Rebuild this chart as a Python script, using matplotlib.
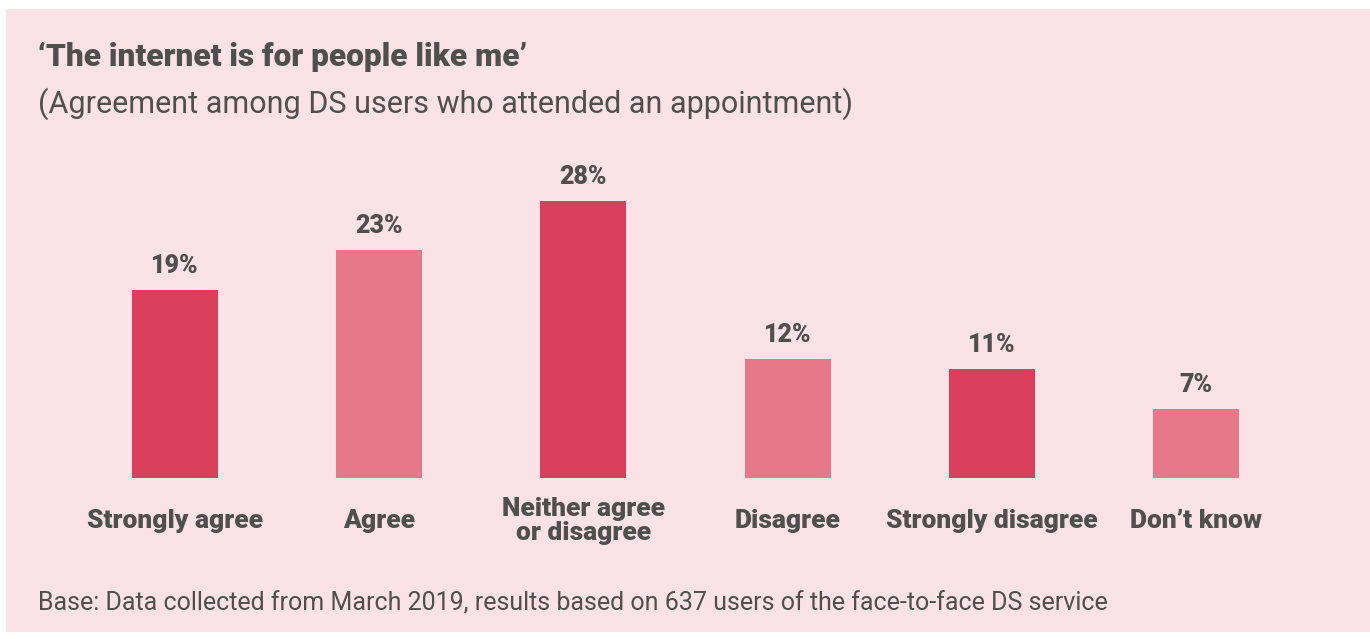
import matplotlib
matplotlib.use("Agg")
import matplotlib.pyplot as plt
from matplotlib.patches import Rectangle
import numpy as np

# data
categories = ["Strongly agree", "Agree", "Neither agree\nor disagree",
              "Disagree", "Strongly disagree", "Don\u2019t know"]
values = [19, 23, 28, 12, 11, 7]

title = "\u2018The internet is for people like me\u2019"
subtitle = "(Agreement among DS users who attended an appointment)"
footnote = "Base: Data collected from March 2019, results based on 637 users of the face-to-face DS service"

DARK = "#DA3F5B"
LIGHT = "#E6788A"
BG = "#FBE2E6"
TXT = "#4F4F4F"

plt.rcParams['font.family'] = ['Roboto', 'DejaVu Sans']

W, H = 1370, 639
fig = plt.figure(figsize=(W / 100, H / 100), dpi=100, facecolor="white")

# pink panel
fig.patches.append(Rectangle((6 / W, (H - 632) / H), 1 - 6 / W, (632 - 9) / H,
                             transform=fig.transFigure, facecolor=BG,
                             edgecolor="none", zorder=-1))

# axes: bar centres 175..1196 px, baseline at y=478 px
step = (1196 - 175) / 5
ax_left, ax_right = 60, 1310
ax_bottom, ax_top = 478, 181
ax = fig.add_axes([ax_left / W, (H - ax_bottom) / H,
                   (ax_right - ax_left) / W, (ax_bottom - ax_top) / H])
ax.set_zorder(2)
ax.set_xlim((ax_left - 175) / step, (ax_right - 175) / step)
ax.set_ylim(0, 30)
ax.axis("off")

x = np.arange(len(values))
colors = [DARK if i % 2 == 0 else LIGHT for i in range(len(values))]
ax.bar(x, values, width=86 / step, color=colors)

for xi, v in zip(x, values):
    ax.annotate(f"{v}%", (xi, v), xytext=(0, 12), textcoords="offset pixels",
                ha="center", va="bottom", fontsize=18, fontweight="black",
                color=TXT, annotation_clip=False)

for xi, c in zip(x, categories):
    ax.annotate(c, (xi, 0), xytext=(0, -43), textcoords="offset pixels",
                ha="center", va="center", fontsize=19, fontweight="black",
                color=TXT, linespacing=0.95, annotation_clip=False)

fig.text(38 / W, 1 - 57 / H, title, ha="left", va="center", fontsize=22.8,
         fontweight="black", color=TXT)
fig.text(38 / W, 1 - 104 / H, subtitle, ha="left", va="center", fontsize=22,
         color=TXT)
fig.text(38 / W, 1 - 604 / H, footnote, ha="left", va="center", fontsize=18,
         color=TXT)

fig.savefig("out.png", dpi=100, facecolor="white")
